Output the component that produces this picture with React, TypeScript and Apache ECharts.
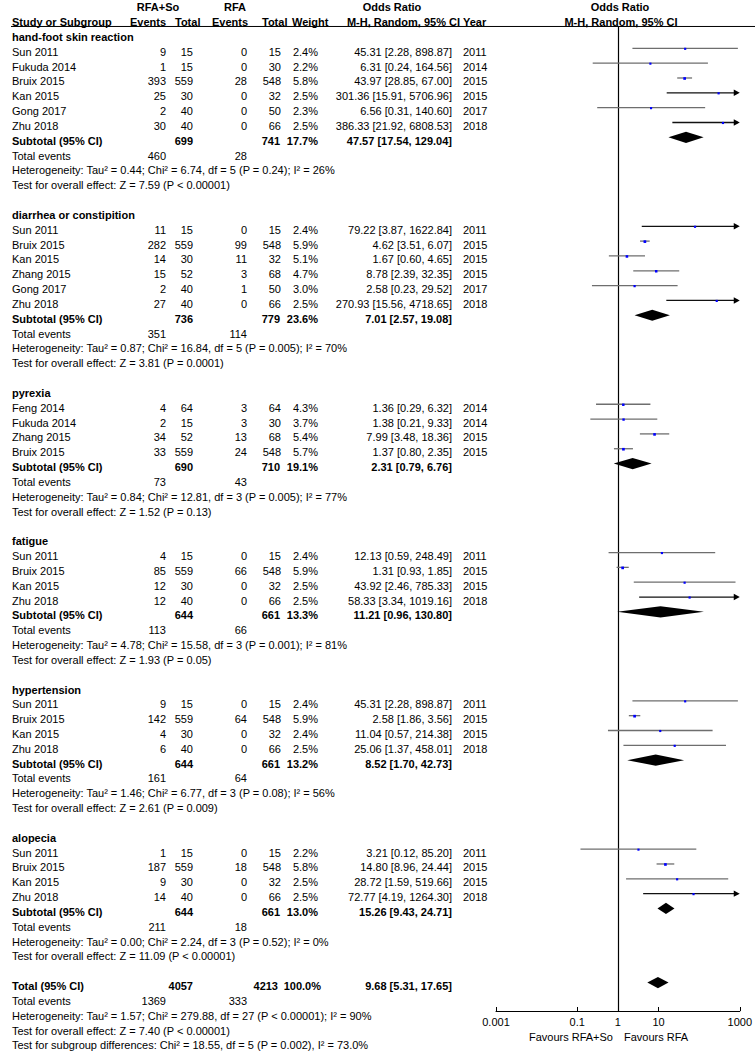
import React, { useEffect, useRef } from "react";
import * as echarts from "echarts";

// ---------- DATA ----------
const groupNames = [
  "hand-foot skin reaction",
  "diarrhea or constipition",
  "pyrexia",
  "fatigue",
  "hypertension",
  "alopecia",
];

const studyGroup = [0, 0, 0, 0, 0, 0, 1, 1, 1, 1, 1, 1, 2, 2, 2, 2, 3, 3, 3, 3, 4, 4, 4, 4, 5, 5, 5, 5];
const studyNames = [
  "Sun 2011", "Fukuda 2014", "Bruix 2015", "Kan 2015", "Gong 2017", "Zhu 2018",
  "Sun 2011", "Bruix 2015", "Kan 2015", "Zhang 2015", "Gong 2017", "Zhu 2018",
  "Feng 2014", "Fukuda 2014", "Zhang 2015", "Bruix 2015",
  "Sun 2011", "Bruix 2015", "Kan 2015", "Zhu 2018",
  "Sun 2011", "Bruix 2015", "Kan 2015", "Zhu 2018",
  "Sun 2011", "Bruix 2015", "Kan 2015", "Zhu 2018",
];
const expEvents = [9, 1, 393, 25, 2, 30, 11, 282, 14, 15, 2, 27, 4, 2, 34, 33, 4, 85, 12, 12, 9, 142, 4, 6, 1, 187, 9, 14];
const expTotal = [15, 15, 559, 30, 40, 40, 15, 559, 30, 52, 40, 40, 64, 15, 52, 559, 15, 559, 30, 40, 15, 559, 30, 40, 15, 559, 30, 40];
const ctlEvents = [0, 0, 28, 0, 0, 0, 0, 99, 11, 3, 1, 0, 3, 3, 13, 24, 0, 66, 0, 0, 0, 64, 0, 0, 0, 18, 0, 0];
const ctlTotal = [15, 30, 548, 32, 50, 66, 15, 548, 32, 68, 50, 66, 64, 30, 68, 548, 15, 548, 32, 66, 15, 548, 32, 66, 15, 548, 32, 66];
const weights = [2.4, 2.2, 5.8, 2.5, 2.3, 2.5, 2.4, 5.9, 5.1, 4.7, 3.0, 2.5, 4.3, 3.7, 5.4, 5.7, 2.4, 5.9, 2.5, 2.5, 2.4, 5.9, 2.4, 2.5, 2.2, 5.8, 2.5, 2.5];
const oddsRatio = [45.31, 6.31, 43.97, 301.36, 6.56, 386.33, 79.22, 4.62, 1.67, 8.78, 2.58, 270.93, 1.36, 1.38, 7.99, 1.37, 12.13, 1.31, 43.92, 58.33, 45.31, 2.58, 11.04, 25.06, 3.21, 14.8, 28.72, 72.77];
const ciLower = [2.28, 0.24, 28.85, 15.91, 0.31, 21.92, 3.87, 3.51, 0.6, 2.39, 0.23, 15.56, 0.29, 0.21, 3.48, 0.8, 0.59, 0.93, 2.46, 3.34, 2.28, 1.86, 0.57, 1.37, 0.12, 8.96, 1.59, 4.19];
const ciUpper = [898.87, 164.56, 67.0, 5706.96, 140.6, 6808.53, 1622.84, 6.07, 4.65, 32.35, 29.52, 4718.65, 6.32, 9.33, 18.36, 2.35, 248.49, 1.85, 785.33, 1019.16, 898.87, 3.56, 214.38, 458.01, 85.2, 24.44, 519.66, 1264.3];
const studyYears = [2011, 2014, 2015, 2015, 2017, 2018, 2011, 2015, 2015, 2015, 2017, 2018, 2014, 2014, 2015, 2015, 2011, 2015, 2015, 2018, 2011, 2015, 2015, 2018, 2011, 2015, 2015, 2018];

const subExpTotal = [699, 736, 690, 644, 644, 644];
const subCtlTotal = [741, 779, 710, 661, 661, 661];
const subWeight = [17.7, 23.6, 19.1, 13.3, 13.2, 13.0];
const subOR = [47.57, 7.01, 2.31, 11.21, 8.52, 15.26];
const subLower = [17.54, 2.57, 0.79, 0.96, 1.7, 9.43];
const subUpper = [129.04, 19.08, 6.76, 130.8, 42.73, 24.71];
const subExpEvents = [460, 351, 73, 113, 161, 211];
const subCtlEvents = [28, 114, 43, 66, 64, 18];
const subHeterogeneity = [
  "Heterogeneity: Tau² = 0.44; Chi² = 6.74, df = 5 (P = 0.24); I² = 26%",
  "Heterogeneity: Tau² = 0.87; Chi² = 16.84, df = 5 (P = 0.005); I² = 70%",
  "Heterogeneity: Tau² = 0.84; Chi² = 12.81, df = 3 (P = 0.005); I² = 77%",
  "Heterogeneity: Tau² = 4.78; Chi² = 15.58, df = 3 (P = 0.001); I² = 81%",
  "Heterogeneity: Tau² = 1.46; Chi² = 6.77, df = 3 (P = 0.08); I² = 56%",
  "Heterogeneity: Tau² = 0.00; Chi² = 2.24, df = 3 (P = 0.52); I² = 0%",
];
const subOverallTest = [
  "Test for overall effect: Z = 7.59 (P < 0.00001)",
  "Test for overall effect: Z = 3.81 (P = 0.0001)",
  "Test for overall effect: Z = 1.52 (P = 0.13)",
  "Test for overall effect: Z = 1.93 (P = 0.05)",
  "Test for overall effect: Z = 2.61 (P = 0.009)",
  "Test for overall effect: Z = 11.09 (P < 0.00001)",
];

const totalExp = 4057;
const totalCtl = 4213;
const totalWeight = 100.0;
const totalOR = 9.68;
const totalLower = 5.31;
const totalUpper = 17.65;
const totalExpEvents = 1369;
const totalCtlEvents = 333;
const totalFooter = [
  "Heterogeneity: Tau² = 1.57; Chi² = 279.88, df = 27 (P < 0.00001); I² = 90%",
  "Test for overall effect: Z = 7.40 (P < 0.00001)",
  "Test for subgroup differences: Chi² = 18.55, df = 5 (P = 0.002), I² = 73.0%",
];

const tickValues = [0.001, 0.1, 1, 10, 1000];
const tickLabels = ["0.001", "0.1", "1", "10", "1000"];

// ---------- LAYOUT ----------
const FONT = '"Liberation Sans", Arial, Helvetica, sans-serif';
const COL = { name: 12, ev1: 166, tot1: 193, ev2: 247, tot2: 281, wt: 318, or: 452, year: 463 };

type Cell = { x: number; text: string; align: "left" | "right" | "center"; bold?: boolean };
type Row = { row: number; cells: Cell[]; underline?: boolean };

const fmtCI = (o: number, l: number, u: number) => `${o.toFixed(2)} [${l.toFixed(2)}, ${u.toFixed(2)}]`;

function buildLayout() {
  const rows: Row[] = [];
  const forest: number[][] = [];
  rows.push({
    row: -2,
    cells: [
      { x: 158, text: "RFA+So", align: "center", bold: true },
      { x: 235, text: "RFA", align: "center", bold: true },
      { x: 392, text: "Odds Ratio", align: "center", bold: true },
      { x: 620, text: "Odds Ratio", align: "center", bold: true },
    ],
  });
  rows.push({
    row: -1,
    underline: true,
    cells: [
      { x: COL.name, text: "Study or Subgroup", align: "left", bold: true },
      { x: 130, text: "Events", align: "left", bold: true },
      { x: 175, text: "Total", align: "left", bold: true },
      { x: 212, text: "Events", align: "left", bold: true },
      { x: 262, text: "Total", align: "left", bold: true },
      { x: 292, text: "Weight", align: "left", bold: true },
      { x: 460, text: "M-H, Random, 95% CI", align: "right", bold: true },
      { x: COL.year, text: "Year", align: "left", bold: true },
      { x: 621, text: "M-H, Random, 95% CI", align: "center", bold: true },
    ],
  });
  let r = 0;
  const L = Math.log10;
  groupNames.forEach((g, gi) => {
    rows.push({ row: r, cells: [{ x: COL.name, text: g, align: "left", bold: true }] });
    r++;
    studyNames.forEach((name, i) => {
      if (studyGroup[i] !== gi) return;
      rows.push({
        row: r,
        cells: [
          { x: COL.name, text: name, align: "left" },
          { x: COL.ev1, text: String(expEvents[i]), align: "right" },
          { x: COL.tot1, text: String(expTotal[i]), align: "right" },
          { x: COL.ev2, text: String(ctlEvents[i]), align: "right" },
          { x: COL.tot2, text: String(ctlTotal[i]), align: "right" },
          { x: COL.wt, text: weights[i].toFixed(1) + "%", align: "right" },
          { x: COL.or, text: fmtCI(oddsRatio[i], ciLower[i], ciUpper[i]), align: "right" },
          { x: COL.year, text: String(studyYears[i]), align: "left" },
        ],
      });
      forest.push([L(ciLower[i]), L(ciUpper[i]), L(oddsRatio[i]), r, weights[i], 0]);
      r++;
    });
    rows.push({
      row: r,
      cells: [
        { x: COL.name, text: "Subtotal (95% CI)", align: "left", bold: true },
        { x: COL.tot1, text: String(subExpTotal[gi]), align: "right", bold: true },
        { x: COL.tot2 - 1, text: String(subCtlTotal[gi]), align: "right", bold: true },
        { x: COL.wt, text: subWeight[gi].toFixed(1) + "%", align: "right", bold: true },
        { x: COL.or, text: fmtCI(subOR[gi], subLower[gi], subUpper[gi]), align: "right", bold: true },
      ],
    });
    forest.push([L(subLower[gi]), L(subUpper[gi]), L(subOR[gi]), r, subWeight[gi], 1]);
    r++;
    rows.push({
      row: r,
      cells: [
        { x: COL.name, text: "Total events", align: "left" },
        { x: COL.ev1, text: String(subExpEvents[gi]), align: "right" },
        { x: COL.ev2, text: String(subCtlEvents[gi]), align: "right" },
      ],
    });
    r++;
    rows.push({ row: r, cells: [{ x: COL.name, text: subHeterogeneity[gi], align: "left" }] });
    r++;
    rows.push({ row: r, cells: [{ x: COL.name, text: subOverallTest[gi], align: "left" }] });
    r++;
    r++;
  });
  rows.push({
    row: r,
    cells: [
      { x: COL.name, text: "Total (95% CI)", align: "left", bold: true },
      { x: COL.tot1, text: String(totalExp), align: "right", bold: true },
      { x: COL.tot2 - 3, text: String(totalCtl), align: "right", bold: true },
      { x: COL.wt + 3, text: totalWeight.toFixed(1) + "%", align: "right", bold: true },
      { x: COL.or, text: fmtCI(totalOR, totalLower, totalUpper), align: "right", bold: true },
    ],
  });
  forest.push([L(totalLower), L(totalUpper), L(totalOR), r, totalWeight, 1]);
  r++;
  rows.push({
    row: r,
    cells: [
      { x: COL.name, text: "Total events", align: "left" },
      { x: COL.ev1, text: String(totalExpEvents), align: "right" },
      { x: COL.ev2, text: String(totalCtlEvents), align: "right" },
    ],
  });
  r++;
  totalFooter.forEach((t) => {
    rows.push({ row: r, cells: [{ x: COL.name, text: t, align: "left" }] });
    r++;
  });
  return { rows, forest };
}

export default function App() {
  const ref = useRef<HTMLDivElement>(null);
  useEffect(() => {
    if (!ref.current) return;
    const chart = echarts.init(ref.current, undefined, { renderer: "svg" });
    const { rows, forest } = buildLayout();
    const logTicks = tickValues.map((v) => Math.log10(v));

    const option: any = {
      animation: false,
      backgroundColor: "#fff",
      grid: [
        { left: 0, top: 0, width: 755, height: 1051 },
        { left: 496, top: 27, width: 246.7, height: 984 },
      ],
      xAxis: [
        { gridIndex: 0, type: "value", min: 0, max: 755, show: false },
        {
          gridIndex: 1,
          type: "value",
          min: -3,
          max: 3,
          axisLine: { show: true, onZero: false, lineStyle: { color: "#000", width: 1 } },
          axisTick: { show: true, inside: true, length: 4, customValues: logTicks, lineStyle: { color: "#000" } },
          axisLabel: {
            show: true,
            customValues: logTicks,
            margin: 5,
            color: "#000",
            fontSize: 11,
            fontFamily: FONT,
            formatter: (v: number) => {
              const idx = logTicks.findIndex((t) => Math.abs(t - v) < 1e-9);
              return idx >= 0 ? tickLabels[idx] : "";
            },
          },
          splitLine: { show: false },
        },
      ],
      yAxis: [
        { gridIndex: 0, type: "value", inverse: true, min: -2.495, max: 68.375, show: false },
        {
          gridIndex: 1,
          type: "value",
          inverse: true,
          min: -0.438,
          max: 65.914,
          axisLine: { show: true, onZero: true, lineStyle: { color: "#000", width: 1.2 } },
          axisTick: { show: false },
          axisLabel: { show: false },
          splitLine: { show: false },
        },
      ],
      graphic: [
        {
          type: "text",
          x: 613,
          y: 1037,
          style: { text: "Favours RFA+So", align: "right", verticalAlign: "middle", fontSize: 11, fontFamily: FONT, fill: "#000" },
        },
        {
          type: "text",
          x: 624,
          y: 1037,
          style: { text: "Favours RFA", align: "left", verticalAlign: "middle", fontSize: 11, fontFamily: FONT, fill: "#000" },
        },
      ],
      series: [
        {
          type: "custom",
          xAxisIndex: 0,
          yAxisIndex: 0,
          silent: true,
          data: rows.map((r) => [0, r.row]),
          renderItem: (params: any, api: any) => {
            const r = rows[params.dataIndex];
            const y = api.coord([0, r.row])[1];
            const children: any[] = r.cells.map((c) => ({
              type: "text",
              style: {
                x: api.coord([c.x, r.row])[0],
                y,
                text: c.text,
                align: c.align,
                verticalAlign: "middle",
                fontSize: 11,
                fontWeight: c.bold ? "bold" : "normal",
                fontFamily: FONT,
                fill: "#000",
              },
            }));
            if (r.underline) {
              const yl = api.coord([0, r.row + 0.29])[1];
              children.push({
                type: "line",
                shape: { x1: api.coord([11, 0])[0], y1: yl, x2: api.coord([755, 0])[0], y2: yl },
                style: { stroke: "#000", lineWidth: 1 },
              });
            }
            return { type: "group", children };
          },
        },
        {
          type: "custom",
          xAxisIndex: 1,
          yAxisIndex: 1,
          silent: true,
          clip: false,
          data: forest,
          renderItem: (params: any, api: any) => {
            const lo = api.value(0);
            const hi = api.value(1);
            const est = api.value(2);
            const row = api.value(3);
            const w = api.value(4);
            const kind = api.value(5);
            const pLo = api.coord([Math.max(lo, -3), row]);
            const pHi = api.coord([Math.min(hi, 3), row]);
            const pEst = api.coord([est, row]);
            const y = pEst[1];
            if (kind === 1) {
              const h = 5.6;
              return {
                type: "polygon",
                shape: { points: [[pLo[0], y], [pEst[0], y - h], [pHi[0], y], [pEst[0], y + h]] },
                style: { fill: "#000" },
              };
            }
            const arrow = hi > 3;
            const children: any[] = [
              {
                type: "line",
                shape: { x1: pLo[0], y1: y, x2: arrow ? pHi[0] - 2 : pHi[0], y2: y },
                style: { stroke: arrow ? "#111" : "#6e6e6e", lineWidth: 1.3 },
              },
            ];
            if (arrow) {
              children.push({
                type: "polygon",
                shape: { points: [[pHi[0], y], [pHi[0] - 6, y - 3.2], [pHi[0] - 6, y + 3.2]] },
                style: { fill: "#000" },
              });
            }
            const s = 1.8 + w * 0.15;
            children.push({
              type: "rect",
              shape: { x: pEst[0] - s / 2, y: y - s / 2 + 0.5, width: s, height: s },
              style: { fill: "#0000ff" },
            });
            return { type: "group", children };
          },
        },
      ],
    };
    chart.setOption(option);
    return () => chart.dispose();
  }, []);
  return (
    <div
      ref={ref}
      style={{ position: "fixed", left: 0, top: 0, width: 755, height: 1051, background: "#fff" }}
    />
  );
}
